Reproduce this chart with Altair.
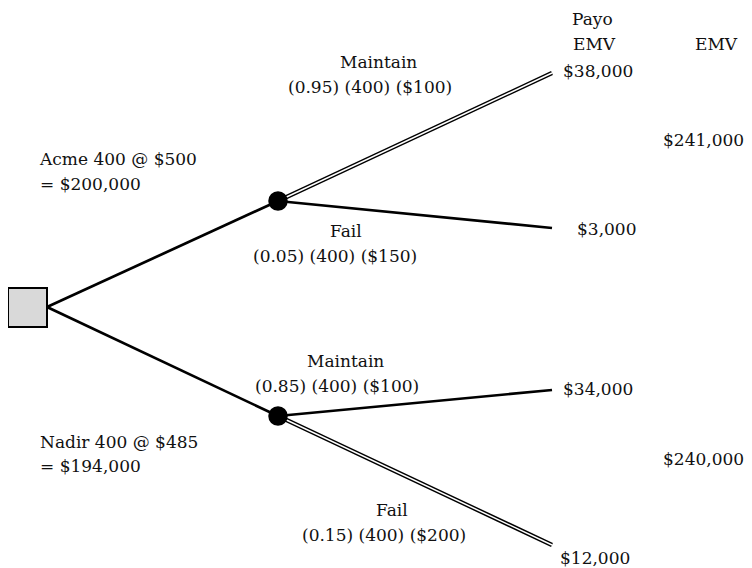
import altair as alt
import pandas as pd

# Node positions (pixel space of the diagram)
seg_x1 = [47, 47, 278, 278, 278, 278]
seg_y1 = [307, 307, 201, 201, 416, 416]
seg_x2 = [278, 278, 552, 552, 552, 552]
seg_y2 = [201, 416, 73, 228, 390, 545]
seg_double = [False, False, True, False, False, True]

chance_x = [278, 278]
chance_y = [201, 416]

decision_x = [8, 47]
decision_y = [288, 327]

labels = ["Payo", "EMV", "EMV", "$241,000", "$240,000",
          "$38,000", "$3,000", "$34,000", "$12,000",
          "Maintain", "(0.95) (400) ($100)", "Fail", "(0.05) (400) ($150)",
          "Maintain", "(0.85) (400) ($100)", "Fail", "(0.15) (400) ($200)",
          "Acme 400 @ $500", "= $200,000", "Nadir 400 @ $485", "= $194,000"]
label_x = [572, 573, 695, 663, 663,
           563, 577, 563, 560,
           340, 288, 330, 253,
           307, 255, 376, 302,
           40, 40, 40, 40]
label_y = [20, 45, 45, 141, 460,
           72, 230, 390, 559,
           63, 88, 232, 257,
           362, 387, 511, 536,
           160, 185, 443, 467]

segs = pd.DataFrame({"x": seg_x1, "y": seg_y1, "x2": seg_x2, "y2": seg_y2, "double": seg_double})
nodes = pd.DataFrame({"x": chance_x, "y": chance_y})
box = pd.DataFrame({"x": [decision_x[0]], "x2": [decision_x[1]], "y": [decision_y[0]], "y2": [decision_y[1]]})
texts = pd.DataFrame({"text": labels, "x": label_x, "y": label_y})

xs = alt.Scale(domain=[8, 744], nice=False, zero=False)
ys = alt.Scale(domain=[8, 568], nice=False, zero=False, reverse=True)
X = lambda f="x": alt.X(f, type="quantitative", scale=xs, axis=None)
Y = lambda f="y": alt.Y(f, type="quantitative", scale=ys, axis=None)

single = alt.Chart(segs).transform_filter("!datum.double").mark_rule(
    color="black", strokeWidth=2.7).encode(x=X(), y=Y(), x2="x2", y2="y2")
double_outer = alt.Chart(segs).transform_filter("datum.double").mark_rule(
    color="black", strokeWidth=4.4).encode(x=X(), y=Y(), x2="x2", y2="y2")
double_inner = alt.Chart(segs).transform_filter("datum.double").mark_rule(
    color="white", strokeWidth=1.5).encode(x=X(), y=Y(), x2="x2", y2="y2")

rect = alt.Chart(box).mark_rect(fill="#d9d9d9", stroke="black", strokeWidth=2).encode(
    x=X(), x2="x2", y=Y(), y2="y2")

circles = alt.Chart(nodes).mark_point(filled=True, shape="circle", size=380, color="black", opacity=1).encode(
    x=X(), y=Y())

text = alt.Chart(texts).mark_text(
    font="DejaVu Serif", fontSize=17, color="#111", align="left", baseline="middle"
).encode(x=X(), y=Y(), text="text")

chart = alt.layer(single, double_outer, double_inner, rect, circles, text).properties(
    width=736, height=560, padding=0, autosize=alt.AutoSizeParams(type="none")
).configure_view(stroke=None)

chart.save("out.html", embed_options={"renderer": "svg", "actions": False})
